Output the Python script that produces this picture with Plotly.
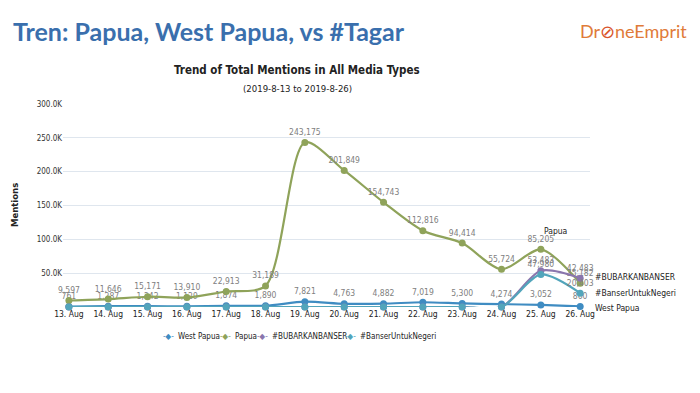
import plotly.graph_objects as go

dates = ["13. Aug", "14. Aug", "15. Aug", "16. Aug", "17. Aug", "18. Aug", "19. Aug",
         "20. Aug", "21. Aug", "22. Aug", "23. Aug", "24. Aug", "25. Aug", "26. Aug"]
west_papua = [761, 1287, 1242, 1129, 1874, 1890, 7821, 4763, 4882, 7019, 5300, 4274, 3052, 860]
papua = [9597, 11646, 15171, 13910, 22913, 31189, 243175, 201849, 154743, 112816, 94414, 55724, 85205, 35182]
bubarkan = [0, 0, 0, 0, 0, 0, 0, 0, 0, 0, 0, 0, 53483, 42483]
banser = [0, 0, 0, 0, 0, 0, 0, 0, 0, 0, 0, 0, 47980, 20403]
ytick_vals = [50000, 100000, 150000, 200000, 250000, 300000]
ytick_text = ["50.0K", "100.0K", "150.0K", "200.0K", "250.0K", "300.0K"]

series = [
    ("West Papua", west_papua, "#3f8cc2"),
    ("Papua", papua, "#8fa35a"),
    ("#BUBARKANBANSER", bubarkan, "#8a76ad"),
    ("#BanserUntukNegeri", banser, "#52a5bb"),
]

NARROW = "DejaVu Sans Condensed, Liberation Sans Narrow, Roboto, sans-serif"
L, T, B = 63, 104, 86
PW, PH = 700 - L - 110, 393 - T - B


def px(xp):
    return (xp - L) / PW


def py(yp):
    return 1 - (yp - T) / PH


x = list(range(len(dates)))
fig = go.Figure()
for name, vals, col in series:
    txt = [f"{v:,}" if v else "" for v in vals]
    fig.add_trace(go.Scatter(
        x=x, y=vals, name=name, mode="lines+markers+text",
        line=dict(color=col, width=2.2, shape="spline", smoothing=0.8),
        marker=dict(color=col, size=7, symbol="circle"),
        text=txt, textposition="top center",
        textfont=dict(size=8.5, color="#808080", family=NARROW),
        cliponaxis=False, showlegend=False,
    ))

end_labels = [("Papua", 555, 231, "center"), ("#BUBARKANBANSER", 593, 277, "left"),
              ("#BanserUntukNegeri", 593, 293, "left"), ("West Papua", 593, 308, "left")]
for t, xp, yp, al in end_labels:
    fig.add_annotation(text=t, xref="paper", yref="paper", x=px(xp), y=py(yp), showarrow=False,
                       xanchor=al, yanchor="middle",
                       font=dict(size=8.5, color="#222222", family=NARROW))

# custom compact legend
leg_x = [168, 225, 262, 350]
for (name, vals, col), lx in zip(series, leg_x):
    fig.add_annotation(text="-◆-", xref="paper", yref="paper",
                       x=px(lx), y=py(336), showarrow=False, xanchor="center", yanchor="middle",
                       font=dict(size=8, color=col, family=NARROW))
    fig.add_annotation(text=name, xref="paper", yref="paper",
                       x=px(lx + 8), y=py(336), showarrow=False, xanchor="left", yanchor="middle",
                       font=dict(size=8, color="#222222", family=NARROW))

fig.add_annotation(text="Tren: Papua, West Papua, vs #Tagar", xref="paper", yref="paper",
                   x=px(11), y=py(31), showarrow=False, xanchor="left", yanchor="middle",
                   font=dict(size=25, color="#3a6fad", family="Lato, sans-serif", weight="bold"))
fig.add_annotation(text="Dr<span style='color:#d9542b'>⊘</span>neEmprit", xref="paper", yref="paper",
                   x=px(633), y=py(31), showarrow=False, xanchor="center", yanchor="middle",
                   font=dict(size=18, color="#e07b39", family="Lato, sans-serif"))
fig.add_annotation(text="<b>Trend of Total Mentions in All Media Types</b>", xref="paper", yref="paper",
                   x=px(297), y=py(70), showarrow=False, xanchor="center", yanchor="middle",
                   font=dict(size=11.5, color="#222222", family=NARROW))
fig.add_annotation(text="(2019-8-13 to 2019-8-26)", xref="paper", yref="paper",
                   x=px(297), y=py(88), showarrow=False, xanchor="center", yanchor="middle",
                   font=dict(size=9.5, color="#222222", family=NARROW))
fig.add_annotation(text="<b>Mentions</b>", xref="paper", yref="paper",
                   x=px(15), y=py(205), showarrow=False, textangle=-90,
                   xanchor="center", yanchor="middle",
                   font=dict(size=8.5, color="#222222", family="DejaVu Sans, sans-serif"))

fig.update_layout(
    width=700, height=393,
    margin=dict(l=L, r=110, t=T, b=B),
    paper_bgcolor="white", plot_bgcolor="white",
    showlegend=False,
    xaxis=dict(tickvals=x, ticktext=dates, range=[-0.15, 13.25], showgrid=False, zeroline=False,
               showline=False, ticks="",
               tickfont=dict(size=8.5, color="#222222", family=NARROW)),
    yaxis=dict(range=[0, 300000], tickvals=ytick_vals, ticktext=ytick_text, showgrid=True,
               gridcolor="#dfe6ee", gridwidth=1, zeroline=False, showline=False,
               tickfont=dict(size=8, color="#333333", family=NARROW)),
)

fig.write_html("out.html", config={"displayModeBar": False},
               post_script="document.body.style.margin='0';")
